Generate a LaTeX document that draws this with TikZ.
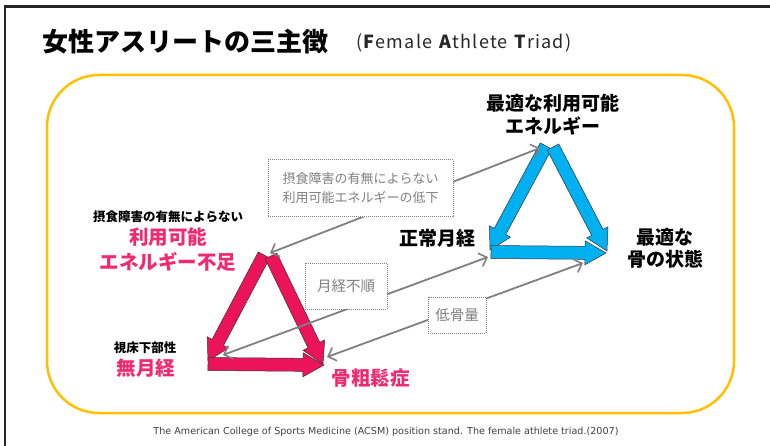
\documentclass[tikz,border=0pt]{standalone}
\usepackage{fontspec}
\usetikzlibrary{calc,arrows.meta}
\setmainfont{Noto Sans CJK JP}
\newfontfamily\jp{Noto Sans CJK JP}
\newfontfamily\subfont[LetterSpace=7]{Noto Sans CJK JP}
\newfontfamily\ftfont{DejaVu Sans}
\definecolor{pinkfill}{HTML}{EB145A}
\definecolor{pinktext}{HTML}{F02A70}
\definecolor{bluefill}{HTML}{00B0F0}
\definecolor{ylw}{HTML}{FFC000}
\definecolor{arrgray}{HTML}{808080}
\definecolor{frm}{HTML}{262626}
\newcommand\fsz[2]{\fontsize{#1}{#2}\selectfont}
% block arrow: #1 style, #2 start, #3 end
\newcommand\blockarr[3]{%
  \path (#2) coordinate (ba-s) (#3) coordinate (ba-e);
  \path ($(ba-e)!21pt!(ba-s)$) coordinate (ba-h);
  \filldraw[#1] ($(ba-s)!6.5pt!90:(ba-e)$) -- ($(ba-h)!6.5pt!90:(ba-e)$) --
    ($(ba-h)!12pt!90:(ba-e)$) -- (ba-e) -- ($(ba-h)!12pt!-90:(ba-e)$) --
    ($(ba-h)!6.5pt!-90:(ba-e)$) -- ($(ba-s)!6.5pt!-90:(ba-e)$) -- cycle;
}
\tikzset{
  pinkarr/.style={fill=pinkfill, draw=black!80, line width=0.5pt, line join=miter},
  bluearr/.style={fill=bluefill, draw=black!80, line width=0.5pt, line join=miter},
  grayline/.style={draw=arrgray, line width=1.8pt,
    {Straight Barb[length=7pt,width=14pt,line width=1.6pt]}-{Straight Barb[length=7pt,width=14pt,line width=1.6pt]}},
  dbox/.style={draw=arrgray, densely dotted, line width=1pt, fill=white, inner sep=0pt,
    text=arrgray, align=center, font=\jp\fsz{13}{19}},
  blk/.style={inner sep=0pt, align=center, text=black, font=\jp\bfseries\fsz{19}{23}},
  pnk/.style={inner sep=0pt, align=center, text=pinktext, font=\jp\bfseries\fsz{19.5}{25}},
  small/.style={inner sep=0pt, align=center, text=black, font=\jp\bfseries\fsz{12.5}{15}}
}
\begin{document}
\begin{tikzpicture}[x=1pt,y=-1pt]
\useasboundingbox (0,0) rectangle (770,446);
\fill[white] (0,0) rectangle (770,446);
% frame
\draw[frm, line width=2.5pt] (5,446) -- (5,6.5) -- (770,6.5);
% title
\node[inner sep=0pt, anchor=west, font=\jp\bfseries\fsz{26}{30}] (title) at (42,42) {女性アスリートの三主徴};
\node[inner sep=0pt, anchor=west, font=\subfont\fsz{18}{20}, text=black!85] (subtitle) at (356,43)
  {(\textbf{F}emale \textbf{A}thlete \textbf{T}riad)};
% yellow frame
\draw[ylw, line width=2.5pt, rounded corners=52pt] (47,75) rectangle (734,413);
% footer
\node[inner sep=0pt, font=\ftfont\fsz{9.6}{11}, text=black!75] (foot) at (386,432)
  {The American College of Sports Medicine (ACSM) position stand. The female athlete triad.(2007)};
% pink triangle
\coordinate (pT1) at (264,255);
\coordinate (pT2) at (271,256);
\coordinate (pL) at (208,361);
\coordinate (pR) at (323,364);
\coordinate (pB1) at (208,364);
\coordinate (pB2) at (324,365);
\blockarr{pinkarr}{pT1}{pL}
\blockarr{pinkarr}{pT2}{pR}
\blockarr{pinkarr}{pB1}{pB2}
% blue triangle
\coordinate (bT1) at (546,146);
\coordinate (bT2) at (553,147);
\coordinate (bL) at (490,250);
\coordinate (bR) at (607,251);
\coordinate (bB1) at (491,252);
\coordinate (bB2) at (606,253);
\blockarr{bluearr}{bT1}{bL}
\blockarr{bluearr}{bT2}{bR}
\blockarr{bluearr}{bB1}{bB2}
% gray connectors
\coordinate (g1a) at (270,253);
\coordinate (g1b) at (540,148);
\coordinate (g2a) at (223,355);
\coordinate (g2b) at (488,257);
\coordinate (g3a) at (327,357);
\coordinate (g3b) at (583,263);
\draw[grayline] (g1a) -- (g1b);
\draw[grayline] (g2a) -- (g2b);
\draw[grayline] (g3a) -- (g3b);
% dotted boxes
\node[dbox, minimum width=185pt, minimum height=57pt] (box1) at (360.5,188.5)
  {摂食障害の有無によらない\\利用可能エネルギーの低下};
\node[dbox, minimum width=82pt, minimum height=46pt, font=\jp\fsz{14.5}{17}] (box2) at (346,286) {月経不順};
\node[dbox, minimum width=58pt, minimum height=36pt, font=\jp\fsz{14.5}{17}] (box3) at (457,315) {低骨量};
% labels
\node[blk] (optE) at (553,115) {最適な利用可能\\エネルギー};
\node[blk] (normM) at (437,238) {正常月経};
\node[blk, font=\jp\bfseries\fsz{19}{22}] (optB) at (665,248.5) {最適な\\骨の状態};
\node[small] (edA) at (168,217) {摂食障害の有無によらない};
\node[pnk] (lowE) at (168,249.5) {利用可能\\エネルギー不足};
\node[small] (hypo) at (145,348) {視床下部性};
\node[pnk] (amen) at (146,368) {無月経};
\node[pnk] (osteo) at (370.5,378) {骨粗鬆症};
\end{tikzpicture}
\end{document}
